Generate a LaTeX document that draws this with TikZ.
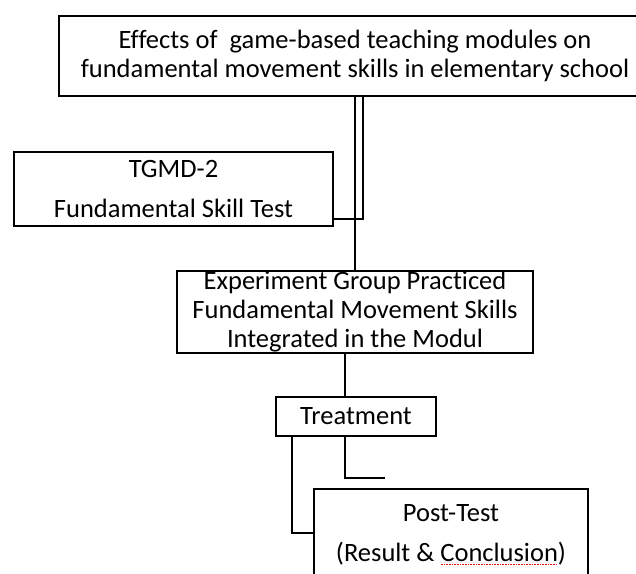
\documentclass[tikz,border=0pt]{standalone}
\usepackage{fontspec}
\setmainfont{Carlito}[Ligatures={NoCommon,NoRare}]
\usepackage{xcolor}
\usepackage{tikz}
\newcommand{\spellmark}[1]{\setbox0=\hbox{#1}\rlap{\raisebox{-3pt}{\color{red}\hbox to \wd0{\leaders\hbox to 1.6pt{\hss\rule{0.8pt}{0.8pt}\hss}\hfill}}}\box0}

\begin{document}
\begin{tikzpicture}[x=1pt,y=-1pt,
    box/.style={draw,line width=2pt,inner sep=0pt,align=center,
        font=\fontsize{26.5}{28.5}\selectfont},
    link/.style={line width=2pt}]
    \useasboundingbox (0,0) rectangle (636,573);
    \clip (0,0) rectangle (636,573);
    
    \node[box,minimum width=592pt,minimum height=80pt] (title) at (355,56)
        {Effects of\ \ game-based teaching modules on\\fundamental movement skills in elementary school};
    \node[box,minimum width=319pt,minimum height=74pt] (tgmd) at (173.5,189)
        {TGMD-2\\[11.5pt]Fundamental Skill Test};
    \node[box,minimum width=356pt,minimum height=82pt] (exper) at (355,312)
        {Experiment Group Practiced\\[0.5pt]Fundamental Movement Skills\\[0.5pt]Integrated in the Modul};
    \node[box,minimum width=160pt,minimum height=39pt] (treat) at (356,416.5) {Treatment};
    \node[box,minimum width=274pt,minimum height=92pt] (post) at (451,535)
        {Post-Test\\[11.5pt](Result \& \spellmark{Conclusion})};
    \coordinate (open) at (385,478);
    
    \draw[link] (title.south) -- (exper.north);
    \draw[link] ([xshift=8pt]title.south) |- ([yshift=-30pt]tgmd.east);
    \draw[link] ([xshift=-11pt]treat.north) -- ([xshift=-11pt]treat.north |- exper.south);
    \draw[link] ([xshift=-11pt]treat.south) |- (open);
    \draw[link] ([xshift=-64pt]treat.south) |- ([yshift=2pt]post.west);
    
\end{tikzpicture}
\end{document}
